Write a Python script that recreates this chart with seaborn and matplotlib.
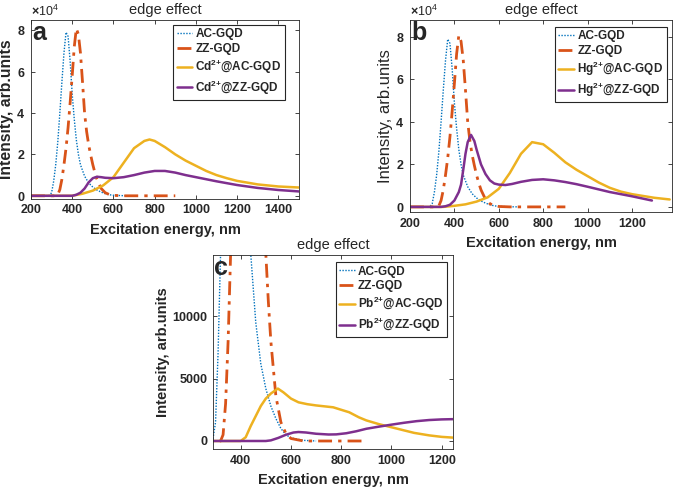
import matplotlib
matplotlib.use("Agg")
import matplotlib.pyplot as plt
import seaborn as sns


# ==========================================================
# Data (intensity in arb. units, x in nm)
# ==========================================================

ac_x = [200, 280, 290, 300, 310, 320, 330, 340, 350, 360, 370, 380, 390,
        400, 410, 420, 430, 440, 460, 480, 500, 520, 540, 560, 580, 600,
        650, 700]
ac_y = [0, 0, 200, 1500, 7000, 15000, 26000, 40000, 55000, 69000, 79000,
        77000, 65000, 49000, 37000, 27000, 20000, 15000, 9500, 6200, 4200,
        2800, 1800, 1000, 500, 250, 50, 0]

zz_x = [200, 320, 330, 340, 350, 360, 370, 380, 390, 400, 410, 420, 430,
        440, 450, 460, 470, 480, 490, 500, 510, 520, 540, 560, 580, 600,
        650, 700, 800, 900]
zz_y = [0, 0, 500, 3000, 8000, 15000, 23000, 33000, 45000, 58000, 72000,
        80800, 78000, 69000, 55000, 40000, 31000, 24500, 19500, 15000,
        11200, 8000, 3600, 1500, 600, 200, 0, 0, 0, 0]

cd_ac_x = [200, 400, 450, 500, 550, 600, 650, 700, 750, 775, 800, 850, 900,
           950, 1000, 1050, 1100, 1150, 1200, 1300, 1400, 1500]
cd_ac_y = [0, 0, 1000, 2500, 5000, 9000, 16000, 23000, 26500, 27200, 26500,
           23500, 20000, 17000, 14500, 12000, 10000, 8500, 7200, 5500, 4500,
           4000]

cd_zz_x = [200, 400, 420, 440, 460, 480, 500, 520, 540, 560, 600, 650, 700,
           750, 800, 850, 900, 950, 1000, 1100, 1200, 1300, 1400, 1500]
cd_zz_y = [0, 0, 500, 1500, 3500, 6500, 8500, 9200, 9000, 8700, 8500, 9000,
           10000, 11200, 12000, 12000, 11200, 10000, 9000, 7000, 5200, 3800,
           2800, 2100]

hg_ac_x = [200, 350, 400, 450, 500, 550, 600, 650, 700, 750, 800, 850, 900,
           950, 1000, 1050, 1100, 1150, 1200, 1300, 1370]
hg_ac_y = [0, 0, 500, 1200, 2500, 4500, 8500, 16000, 25000, 30500, 29500,
           25500, 21000, 17500, 14500, 11500, 9000, 7200, 6000, 4300, 3500]

hg_zz_x = [200, 340, 360, 380, 400, 420, 430, 440, 450, 460, 475, 490, 500,
           520, 540, 560, 580, 600, 630, 660, 700, 750, 800, 850, 900, 950,
           1000, 1100, 1200, 1290]
hg_zz_y = [0, 0, 300, 1000, 3000, 7000, 10500, 17500, 25000, 30500, 33900,
           31000, 27000, 20000, 15500, 12500, 11000, 10500, 10300, 10800,
           11800, 12700, 13000, 12500, 11700, 10700, 9500, 7000, 5000, 3000]

pb_ac_x = [290, 400, 420, 440, 460, 480, 500, 520, 548, 570, 600, 630, 665,
           700, 768, 800, 832, 870, 900, 950, 1000, 1050, 1090, 1150, 1200,
           1245]
pb_ac_y = [0, 0, 300, 1200, 2000, 2800, 3400, 3800, 4200, 3900, 3400, 3100,
           2950, 2850, 2700, 2500, 2300, 1900, 1650, 1350, 1100, 850, 650,
           450, 330, 270]

pb_zz_x = [290, 500, 520, 550, 580, 610, 630, 660, 700, 750, 780, 820, 860,
           900, 950, 1000, 1050, 1100, 1150, 1200, 1245]
pb_zz_y = [0, 0, 50, 250, 500, 680, 720, 680, 580, 520, 530, 620, 780, 980,
           1150, 1310, 1460, 1590, 1680, 1730, 1750]


# ==========================================================
# Style
# ==========================================================

sns.set_style("ticks")
plt.rcParams["font.family"] = ["Liberation Sans", "DejaVu Sans"]
plt.rcParams["font.weight"] = "bold"
plt.rcParams["axes.labelweight"] = "bold"
plt.rcParams["mathtext.fontset"] = "custom"
plt.rcParams["mathtext.rm"] = "Liberation Sans"
plt.rcParams["mathtext.bf"] = "Liberation Sans:bold"

BLUE = "#0072BD"
ORANGE = "#D95319"
YELLOW = "#EDB120"
PURPLE = "#7E2F8E"
EDGE = "#262626"


def draw_panel(ax, metal, metal_ac, metal_zz, letter, xlim, ylim, xticks,
               yticks, sci, anchor, ylabel_style):

    sns.lineplot(x=ac_x, y=ac_y, ax=ax, color=BLUE, linestyle=(0, (1, 1.1)),
                 linewidth=1.0, label="AC-GQD")
    sns.lineplot(x=zz_x, y=zz_y, ax=ax, color=ORANGE,
                 linestyle=(0, (5, 2.2, 1.2, 2.2)), linewidth=2.0,
                 label="ZZ-GQD")
    sns.lineplot(x=metal_ac[0], y=metal_ac[1], ax=ax, color=YELLOW,
                 linewidth=1.8, label=metal + r"$^{\mathbf{2{+}}}$@AC-GQD")
    sns.lineplot(x=metal_zz[0], y=metal_zz[1], ax=ax, color=PURPLE,
                 linewidth=1.8, label=metal + r"$^{\mathbf{2{+}}}$@ZZ-GQD")

    ax.set_xlim(xlim)
    ax.set_ylim(ylim)
    ax.set_xticks(xticks)
    ax.set_yticks(yticks)

    if sci:
        ax.ticklabel_format(axis="y", style="sci", scilimits=(4, 4),
                            useMathText=True)
        ax.yaxis.get_offset_text().set_fontsize(9)
        ax.yaxis.get_offset_text().set_fontweight("normal")

    ax.tick_params(direction="in", top=True, right=True, length=3,
                   width=0.6, color=EDGE, labelsize=9, pad=4)
    for lbl in ax.get_xticklabels() + ax.get_yticklabels():
        lbl.set_fontweight("bold")
    for spine in ax.spines.values():
        spine.set_color(EDGE)
        spine.set_linewidth(0.6)

    ax.set_title("edge effect", fontsize=10.5, fontweight="normal", pad=4)
    ax.set_xlabel("Excitation energy, nm", fontsize=10.5, labelpad=5)
    ax.set_ylabel("Intensity, arb.units", fontsize=ylabel_style[0],
                  fontweight=ylabel_style[1], labelpad=2)

    ax.text(0.005, 0.995, letter, transform=ax.transAxes, fontsize=18,
            fontweight="bold", va="top", ha="left")

    leg = ax.legend(loc="upper right", bbox_to_anchor=anchor, fontsize=8.5,
                    frameon=True, fancybox=False, framealpha=1,
                    handlelength=1.3, borderpad=0.3, labelspacing=0.22,
                    handletextpad=0.3, borderaxespad=0)
    leg.get_frame().set_edgecolor(EDGE)
    leg.get_frame().set_linewidth(0.8)


fig = plt.figure(figsize=(6.75, 4.96), dpi=100)

ax_a = fig.add_axes([0.0459, 0.599, 0.397, 0.361])
ax_b = fig.add_axes([0.6074, 0.5726, 0.388, 0.387])
ax_c = fig.add_axes([0.3156, 0.0948, 0.3556, 0.391])

draw_panel(ax_a, "Cd", (cd_ac_x, cd_ac_y), (cd_zz_x, cd_zz_y), "a",
           (200, 1500), (-1500, 85000), range(200, 1500, 200),
           range(0, 80001, 20000), True, (0.948, 0.972), (11.3, "bold"))

draw_panel(ax_b, "Hg", (hg_ac_x, hg_ac_y), (hg_zz_x, hg_zz_y), "b",
           (200, 1380), (-2400, 88000), range(200, 1201, 200),
           range(0, 80001, 20000), True, (0.981, 0.964), (12, "normal"))

draw_panel(ax_c, "Pb", (pb_ac_x, pb_ac_y), (pb_zz_x, pb_zz_y), "c",
           (290, 1245), (-640, 14900), range(400, 1201, 200),
           [0, 5000, 10000], False, (0.975, 0.964), (10.6, "bold"))

fig.savefig("out.png", dpi=100)
